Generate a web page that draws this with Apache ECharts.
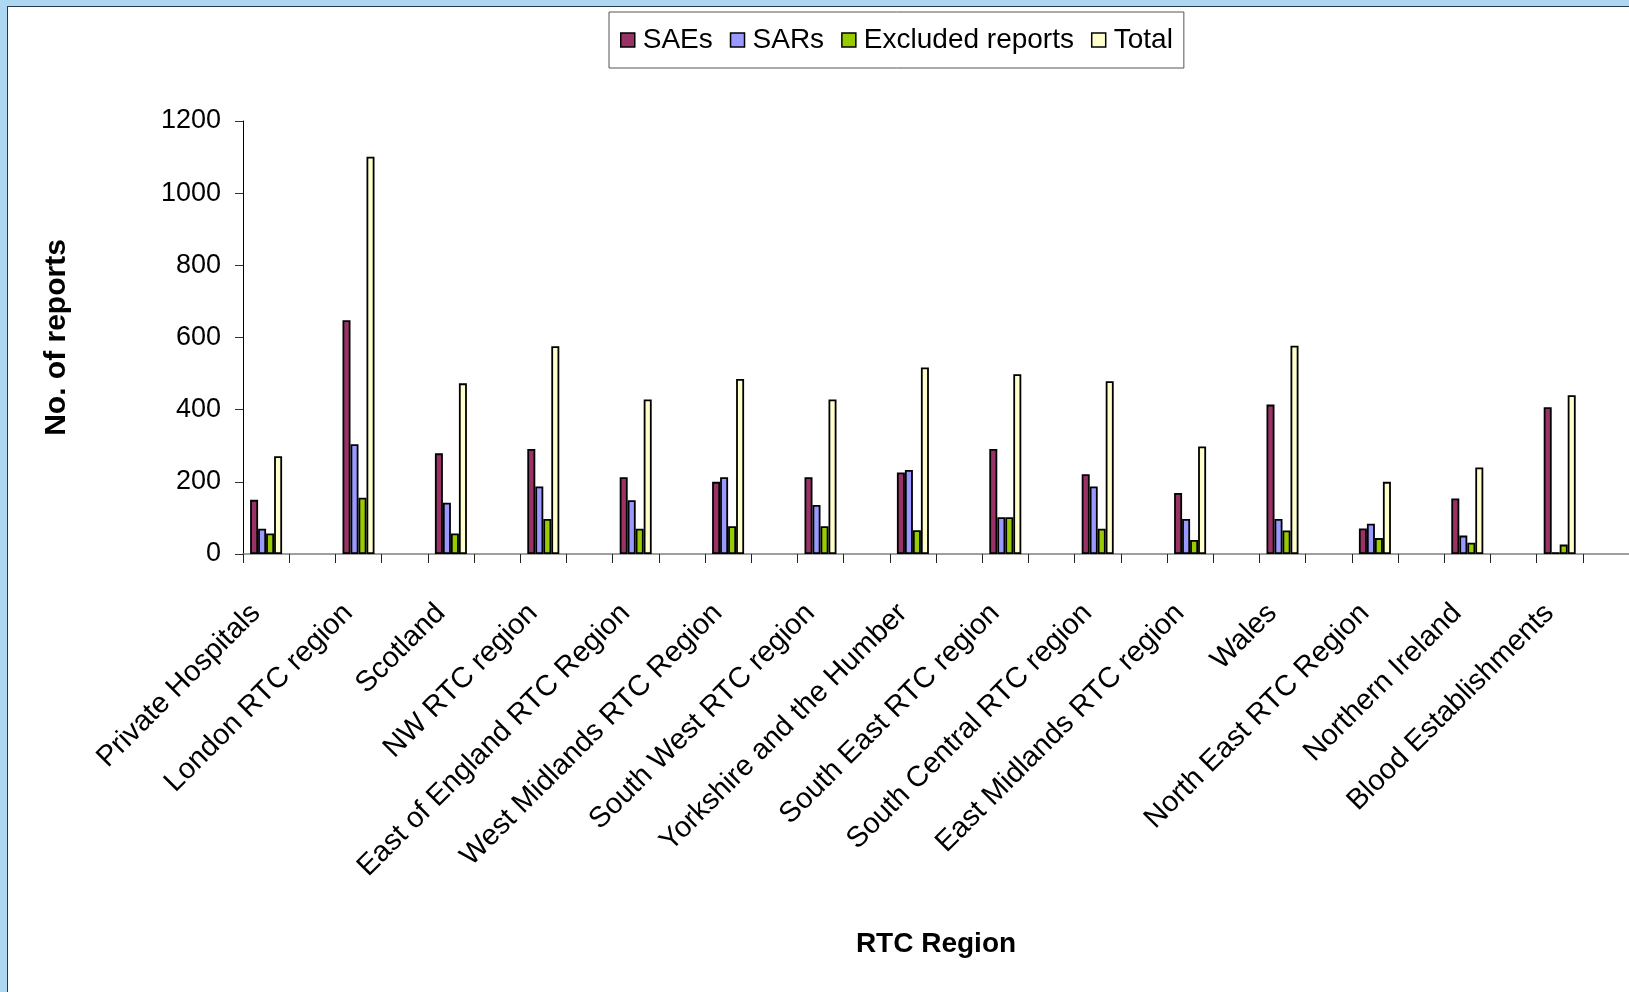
<!DOCTYPE html>
<html>
<head>
<meta charset="utf-8">
<title>Reports by RTC Region</title>
<script src="https://cdn.jsdelivr.net/npm/echarts@6/dist/echarts.min.js"></script>
<style>
  html, body { margin: 0; padding: 0; width: 1629px; height: 992px; overflow: hidden; background: #aed8f2; }
  #frame { position: absolute; left: 7px; top: 6px; right: 0; bottom: 0; background: #ffffff;
           border-top: 1px solid #243a4e; border-left: 1px solid #243a4e; }
  #chart { position: absolute; left: 0; top: 0; width: 1629px; height: 992px; }
</style>
</head>
<body>
<div id="frame"></div>
<div id="chart"></div>
<script>
// Regions along the x axis
const regions = [
  'Private Hospitals', 'London RTC region', 'Scotland', 'NW RTC region',
  'East of England RTC Region', 'West Midlands RTC Region', 'South West RTC region',
  'Yorkshire and the Humber', 'South East RTC region', 'South Central RTC region',
  'East Midlands RTC region', 'Wales', 'North East RTC Region', 'Northern Ireland',
  'Blood Establishments'
];

// Report counts per region
const saes     = [150, 648, 279, 291, 213, 200, 213, 226, 291, 221, 169, 414, 71, 154, 407];
const sars     = [70, 304, 142, 187, 149, 213, 136, 233, 102, 187, 97, 97, 84, 51, 5];
const excluded = [57, 156, 57, 97, 70, 77, 77, 66, 102, 70, 39, 65, 44, 31, 26];
const totals   = [271, 1101, 473, 576, 428, 485, 428, 517, 498, 479, 298, 577, 200, 240, 440];

// Y axis ticks
const yTicks = [0, 200, 400, 600, 800, 1000, 1200];

const seriesNames = ['SAEs', 'SARs', 'Excluded reports', 'Total'];
const seriesColors = ['#993366', '#9999ff', '#99cc00', '#ffffcc'];

// Each region is followed by an empty slot, so every group sits in the
// left half of its region band.
const slots = regions.flatMap(r => [r, '']);
const spread = arr => arr.flatMap(v => [v, null]);

const FONT = 'Liberation Sans, Arial, Helvetica, sans-serif';

const chart = echarts.init(document.getElementById('chart'), null, { renderer: 'canvas' });

chart.setOption({
  backgroundColor: 'transparent',
  animation: false,
  textStyle: { fontFamily: FONT, color: '#000' },
  legend: {
    left: 609,
    top: 12,
    padding: [13, 11, 13, 11],
    itemWidth: 14,
    itemHeight: 14,
    itemGap: 17,
    borderColor: '#555555',
    borderWidth: 1,
    backgroundColor: '#ffffff',
    icon: 'rect',
    itemStyle: { borderColor: '#000', borderWidth: 1.5 },
    textStyle: { fontFamily: FONT, fontSize: 28, color: '#000', padding: [0, 0, 0, 3], lineHeight: 30 },
    data: seriesNames
  },
  grid: { left: 243, right: -9, top: 121, bottom: 438, containLabel: false },
  xAxis: {
    type: 'category',
    data: slots,
    boundaryGap: true,
    name: 'RTC Region',
    nameLocation: 'middle',
    nameGap: 376,
    nameTextStyle: { fontFamily: FONT, fontSize: 28, fontWeight: 'bold', color: '#000' },
    axisLine: { lineStyle: { color: '#808080', width: 1.5 } },
    axisTick: { show: true, interval: 0, length: 9, lineStyle: { color: '#222', width: 1 } },
    axisLabel: {
      interval: 0,
      rotate: 45,
      margin: 65,
      verticalAlign: 'bottom',
      fontFamily: FONT,
      fontSize: 29,
      color: '#000'
    },
    splitLine: { show: false }
  },
  yAxis: {
    type: 'value',
    min: yTicks[0],
    max: yTicks[yTicks.length - 1],
    interval: yTicks[1] - yTicks[0],
    name: 'No. of reports',
    nameLocation: 'middle',
    nameRotate: 90,
    nameGap: 171,
    nameTextStyle: { fontFamily: FONT, fontSize: 30, fontWeight: 'bold', color: '#000' },
    axisLine: { show: true, lineStyle: { color: '#000', width: 1 } },
    axisTick: { show: true, length: 8, lineStyle: { color: '#333', width: 1 } },
    axisLabel: {
      margin: 22,
      fontFamily: FONT,
      fontSize: 27,
      color: '#000',
      formatter: v => String(v)
    },
    splitLine: { show: false }
  },
  series: [saes, sars, excluded, totals].map((values, i) => ({
    name: seriesNames[i],
    type: 'bar',
    data: spread(values),
    barWidth: 8,
    barGap: '0%',
    itemStyle: { color: seriesColors[i], borderColor: '#000', borderWidth: 1.8 }
  }))
});
</script>
</body>
</html>
